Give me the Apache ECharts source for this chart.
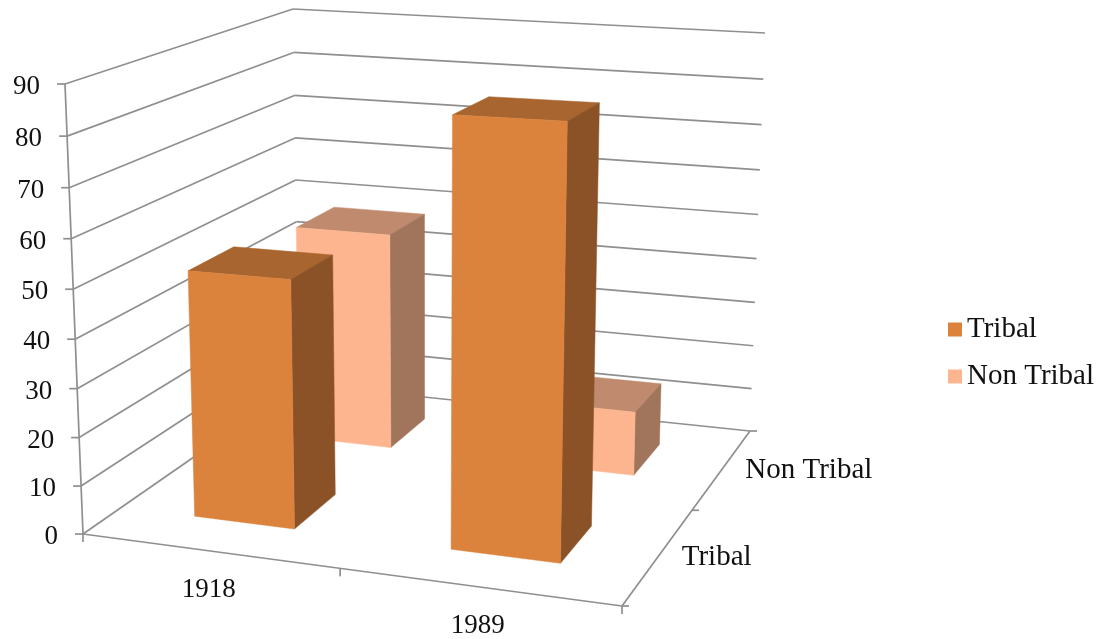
<!DOCTYPE html>
<html><head><meta charset="utf-8">
<script src="https://cdn.jsdelivr.net/npm/echarts@6/dist/echarts.min.js"></script>
<style>html,body{margin:0;padding:0;background:#fff}#c{width:1100px;height:639px}</style>
</head><body><div id="c"></div>
<script>
// ---- data ----
const years = ['1918', '1989'];
const depthNames = ['Tribal', 'Non Tribal'];
const tribal = [51, 85];
const nonTribal = [48, 14];
const valueTicks = [0, 10, 20, 30, 40, 50, 60, 70, 80, 90];

// ---- camera: the eight corners of the plot box on the page, and its foreshortening ----
// index: [u along years][d into depth][v up]
const box = {
  '000': [83, 534], '001': [65, 84],
  '010': [299, 384], '011': [293, 9],
  '100': [622, 606], '101': [633, 113],
  '110': [750, 431], '111': [765, 33]
};
const foreshorten = {u: 1.096, d: 0.828, v: 1.048};
const warp = (t, a) => t / (t + a * (1 - t));
function proj(u, d, v) {
  const U = warp(u, foreshorten.u), D = warp(d, foreshorten.d), V = warp(v, foreshorten.v);
  let x = 0, y = 0;
  [0, 1].forEach(i => [0, 1].forEach(j => [0, 1].forEach(k => {
    const w = (i ? U : 1 - U) * (j ? D : 1 - D) * (k ? V : 1 - V);
    const c = box['' + i + j + k];
    x += w * c[0]; y += w * c[1];
  })));
  return [x, y];
}

const font = '29px "Liberation Serif"';
const fontNum = '27px "Liberation Serif"';
const lineCol = '#8f8f8f';
const lw = 1.7;
const line = (a, b) => ({type: 'line', silent: true, shape: {x1: a[0], y1: a[1], x2: b[0], y2: b[1]}, style: {stroke: lineCol, lineWidth: lw}});
const text = (t, x, y, align, f) => ({type: 'text', silent: true, style: {text: t, x: x, y: y, fill: '#111', font: f || font, align: align, verticalAlign: 'middle'}});

function toVal(params, api, val) {
  const r = params.coordSys;
  const c = api.coord([0, val]);
  return 1 - (c[1] - r.y) / r.height;
}

function renderFrame(params, api) {
  const r = params.coordSys;
  const children = [];
  valueTicks.forEach(t => {
    const v = toVal(params, api, t);
    const f = proj(0, 0, v), b = proj(0, 1, v), e = proj(1, 1, v);
    children.push(line(f, b), line(b, e), line([f[0] - 8, f[1]], f));
    children.push(text(String(t), f[0] - 25, f[1] + 3, 'right', fontNum));
  });
  children.push(line(proj(0, 0, 0), proj(0, 0, 1)));
  children.push(line(proj(0, 0, 0), proj(1, 0, 0)));
  children.push(line(proj(1, 0, 0), proj(1, 1, 0)));
  // year ticks + labels
  const band = api.size([1, 0])[0] / r.width;
  for (let i = 0; i <= years.length; i++) {
    const p = proj(i * band, 0, 0);
    children.push(line(p, [p[0], p[1] + 8]));
  }
  years.forEach((y, i) => {
    const u = (api.coord([i, 0])[0] - r.x) / r.width;
    const p = proj(u, 0, 0);
    children.push(text(y, p[0], p[1] + 39, 'center', fontNum));
  });
  // depth ticks + labels
  for (let i = 0; i <= depthNames.length; i++) {
    const p = proj(1, i / depthNames.length, 0);
    children.push(line(p, [p[0] + 7, p[1]]));
  }
  depthNames.forEach((n, i) => {
    const p = proj(1, (i + 0.5) / depthNames.length, 0);
    children.push(text(n, p[0] + 23, p[1] + 2, 'left'));
  });
  return {type: 'group', children: children};
}

const poly = (pts, fill) => ({type: 'polygon', silent: true, shape: {points: pts}, style: {fill: fill, stroke: fill, lineWidth: 0.5}});
const barHalfU = 0.1, barHalfD = 0.1, barShiftD = 0.005;
function barRenderer(depthIndex, colors) {
  return function (params, api) {
    const r = params.coordSys;
    const c = api.coord([api.value(0), api.value(1)]);
    const u = (c[0] - r.x) / r.width;
    const v = 1 - (c[1] - r.y) / r.height;
    const d = (depthIndex + 0.5) / depthNames.length + barShiftD;
    const u0 = u - barHalfU, u1 = u + barHalfU, d0 = d - barHalfD, d1 = d + barHalfD;
    return {type: 'group', children: [
      poly([proj(u0, d0, v), proj(u1, d0, v), proj(u1, d1, v), proj(u0, d1, v)], colors.top),
      poly([proj(u1, d0, 0), proj(u1, d1, 0), proj(u1, d1, v), proj(u1, d0, v)], colors.side),
      poly([proj(u0, d0, 0), proj(u1, d0, 0), proj(u1, d0, v), proj(u0, d0, v)], colors.front)
    ]};
  };
}
const tribalCols = {front: '#DB823C', top: '#A9652F', side: '#8A5226'};
const nonCols = {front: '#FDB58F', top: '#BF8A6E', side: '#A1755B'};
const asData = arr => arr.map((v, i) => [i, v]);

const chart = echarts.init(document.getElementById('c'), null, {renderer: 'canvas'});
chart.setOption({
  animation: false,
  backgroundColor: '#fff',
  grid: {left: 100, right: 100, top: 50, bottom: 50},
  xAxis: {type: 'category', data: years, show: false},
  yAxis: {type: 'value', min: 0, max: 90, interval: 10, show: false},
  legend: {
    orient: 'vertical', left: 943, top: 310, itemWidth: 14, itemHeight: 14, itemGap: 18, icon: 'rect',
    data: depthNames, selectedMode: false,
    textStyle: {fontFamily: 'Liberation Serif', fontSize: 29, color: '#111'}
  },
  series: [
    {type: 'custom', name: 'frame', renderItem: renderFrame, data: [[0, 0]], encode: {x: 0, y: 1}, z: 1, silent: true},
    {type: 'custom', name: depthNames[1], renderItem: barRenderer(1, nonCols), data: asData(nonTribal), encode: {x: 0, y: 1}, itemStyle: {color: nonCols.front}, z: 2, silent: true},
    {type: 'custom', name: depthNames[0], renderItem: barRenderer(0, tribalCols), data: asData(tribal), encode: {x: 0, y: 1}, itemStyle: {color: tribalCols.front}, z: 3, silent: true}
  ]
});
</script></body></html>
